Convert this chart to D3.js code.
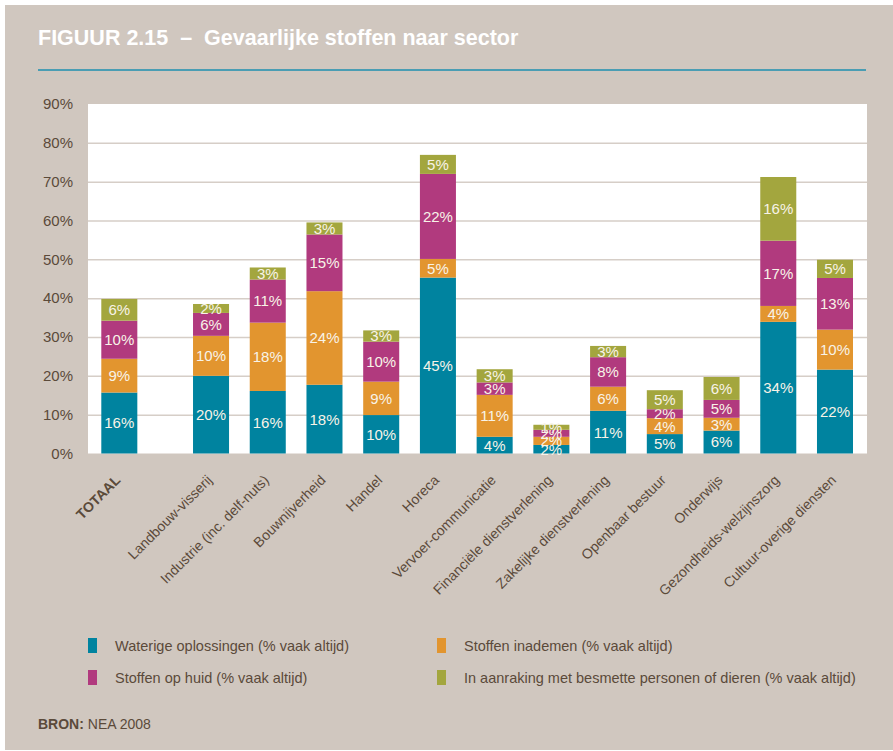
<!DOCTYPE html>
<html>
<head>
<meta charset="utf-8">
<script src="https://cdn.jsdelivr.net/npm/d3@7"></script>
<style>
  body { margin: 0; background: #fff; }
  svg text { font-family: "Liberation Sans", Arial, sans-serif; }
</style>
</head>
<body>
<div id="chart"></div>
<script>
// categories on the x axis
var categories = ["TOTAAL", "Landbouw-visserij", "Industrie (inc. delf-nuts)", "Bouwnijverheid",
  "Handel", "Horeca", "Vervoer-communicatie", "Financiële dienstverlening",
  "Zakelijke dienstverlening", "Openbaar bestuur", "Onderwijs",
  "Gezondheids-welzijnszorg", "Cultuur-overige diensten"];

// series values (% vaak altijd)
var waterig   = [15.7, 20.0, 16.1, 17.7, 9.9, 45.3, 4.3, 2.2, 11.0, 5.0, 5.9, 33.9, 21.6];
var inademen  = [8.7, 10.3, 17.6, 24.1, 8.6, 4.8, 10.8, 2.1, 6.2, 4.1, 3.3, 4.1, 10.3];
var huid      = [9.8, 5.9, 11.1, 14.6, 10.3, 21.9, 3.2, 1.8, 7.6, 2.3, 4.6, 16.8, 13.3];
var besmet    = [5.6, 2.3, 3.1, 3.1, 2.9, 4.9, 3.4, 1.3, 2.9, 4.9, 5.9, 16.4, 4.7];

var seriesNames = ["Waterige oplossingen (% vaak altijd)", "Stoffen inademen (% vaak altijd)",
  "Stoffen op huid (% vaak altijd)", "In aanraking met besmette personen of dieren (% vaak altijd)"];
var yTicks = [0, 10, 20, 30, 40, 50, 60, 70, 80, 90];

var colors = ["#00839f", "#e2952f", "#b13a7e", "#a3a63e"];
var keys = ["waterig", "inademen", "huid", "besmet"];
var textColor = "#5b4a3a";

var width = 893, height = 751;

var svg = d3.select("#chart").append("svg")
            .attr("width", width)
            .attr("height", height);

// beige panel
svg.append("rect")
   .attr("x", 5).attr("y", 5)
   .attr("width", width - 5).attr("height", 745)
   .attr("fill", "#d0c7bf");

svg.append("text")
   .attr("x", 38).attr("y", 45)
   .attr("fill", "#fff")
   .style("font-size", "21.5px")
   .style("font-weight", "bold")
   .attr("xml:space", "preserve")
   .text("FIGUUR 2.15  \u2013  Gevaarlijke stoffen naar sector");

svg.append("line")
   .attr("x1", 38).attr("x2", 866)
   .attr("y1", 70).attr("y2", 70)
   .attr("stroke", "#4a9db3")
   .attr("stroke-width", 2);

var plotLeft = 88, plotRight = 867, plotTop = 104, plotBottom = 453.5;

svg.append("rect")
   .attr("x", plotLeft).attr("y", plotTop)
   .attr("width", plotRight - plotLeft).attr("height", plotBottom - plotTop)
   .attr("fill", "#fff");

var y = d3.scaleLinear()
          .domain([0, 90])
          .range([plotBottom, plotTop]);

var x = d3.scaleBand()
          .domain(categories)
          .range([136.3, 853])
          .paddingInner(0.365)
          .paddingOuter(0);

// TOTAAL sits apart from the sectors
var totalShift = 35;
function xPos(c) { return x(c) - (c === "TOTAAL" ? totalShift : 0); }

// gridlines
svg.append("g")
   .attr("transform", "translate(" + plotLeft + ",0)")
   .call(d3.axisLeft(y).tickValues(yTicks.slice(1, -1)).tickSize(-(plotRight - plotLeft)).tickFormat(""))
   .call(function(g) {
     g.select(".domain").remove();
     g.selectAll("line").attr("stroke", "#d6cec7").attr("stroke-width", 1.5);
   });

// y axis labels
svg.append("g")
   .attr("transform", "translate(73,0)")
   .call(d3.axisLeft(y).tickValues(yTicks).tickSize(0).tickPadding(0).tickFormat(function(d){ return d + "%"; }))
   .call(function(g) {
     g.select(".domain").remove();
     g.selectAll("text")
      .attr("fill", textColor)
      .style("font-size", "15px")
      .style("font-family", "'Liberation Sans', Arial, sans-serif");
   });

var table = categories.map(function(c, i) {
  return { cat: c, waterig: waterig[i], inademen: inademen[i], huid: huid[i], besmet: besmet[i] };
});

var stacked = d3.stack().keys(keys)(table);

var layers = svg.append("g").selectAll("g")
  .data(stacked)
  .enter().append("g")
  .attr("fill", function(d, i){ return colors[i]; });

layers.selectAll("rect")
  .data(function(d){ return d; })
  .enter().append("rect")
  .attr("x", function(d){ return xPos(d.data.cat); })
  .attr("width", x.bandwidth())
  .attr("y", function(d){ return y(d[1]); })
  .attr("height", function(d){ return y(d[0]) - y(d[1]); });

layers.selectAll("text")
  .data(function(d){ return d; })
  .enter().append("text")
  .attr("x", function(d){ return xPos(d.data.cat) + x.bandwidth() / 2; })
  .attr("y", function(d){ return (y(d[0]) + y(d[1])) / 2; })
  .attr("dy", "0.36em")
  .attr("text-anchor", "middle")
  .attr("fill", "#f8f3e8")
  .style("font-size", "15px")
  .text(function(d){ return Math.round(d[1] - d[0]) + "%"; });

// rotated category labels
svg.append("g").selectAll("text")
  .data(categories)
  .enter().append("text")
  .attr("transform", function(c){
    return "translate(" + (xPos(c) + x.bandwidth() / 2 + 2) + ",481) rotate(-45)";
  })
  .attr("text-anchor", "end")
  .attr("fill", textColor)
  .style("font-size", "14px")
  .style("font-weight", function(c){ return c === "TOTAAL" ? "bold" : "normal"; })
  .text(function(c){ return c; });

// legend
var legend = svg.append("g").selectAll("g")
  .data(seriesNames)
  .enter().append("g")
  .attr("transform", function(d, i){
    return "translate(" + (i % 2 === 0 ? 88 : 437) + "," + (638 + Math.floor(i / 2) * 32) + ")";
  });

legend.append("rect")
  .attr("width", 9).attr("height", 15)
  .attr("fill", function(d, i){ return colors[i]; });

legend.append("text")
  .attr("x", 27).attr("y", 13)
  .attr("fill", textColor)
  .style("font-size", "14.5px")
  .text(function(d){ return d; });

var bron = svg.append("text")
  .attr("x", 38).attr("y", 729)
  .attr("fill", textColor)
  .style("font-size", "14px");
bron.append("tspan").style("font-weight", "bold").text("BRON:");
bron.append("tspan").text(" NEA 2008");
</script>
</body>
</html>
